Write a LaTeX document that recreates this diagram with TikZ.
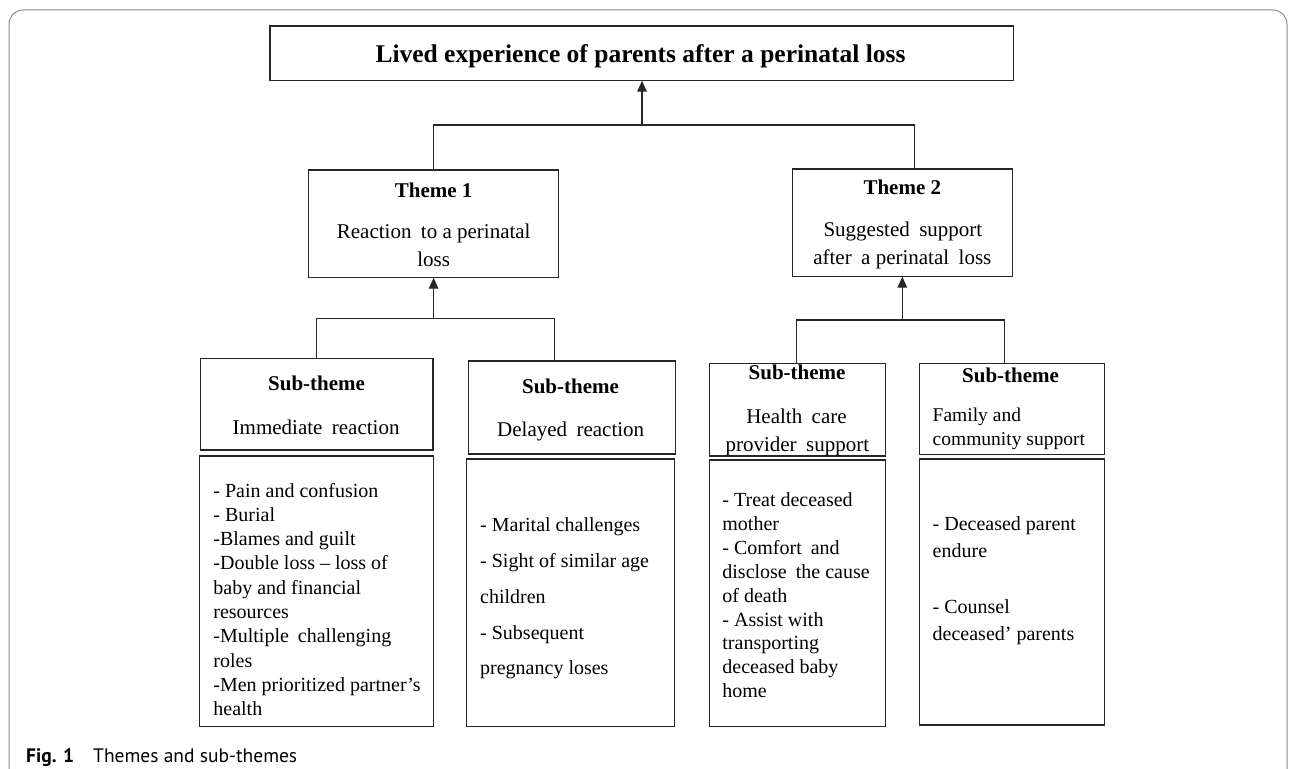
\documentclass[tikz,border=0pt]{standalone}
\usepackage{fontspec}
\setmainfont{Liberation Serif}
\newfontfamily\capfont{PT Sans}
\usetikzlibrary{arrows.meta,calc}
\newcommand\xs{\hspace{0.2em}}
\begin{document}
\begin{tikzpicture}[x=1pt,y=-1pt,
  bx/.style={draw=black!85,line width=1.3pt,inner sep=0pt,outer sep=0pt},
  ln/.style={draw=black!85,line width=1.3pt},
  arr/.style={ln,-{Triangle[length=11pt,width=9.5pt]}},
  ttl/.style={font=\fontsize{25.5}{30}\selectfont\bfseries,inner sep=0pt,anchor=base},
  hd/.style={font=\fontsize{21}{25}\selectfont\bfseries,inner sep=0pt,anchor=base},
  tx/.style={font=\fontsize{21}{25}\selectfont,inner sep=0pt,anchor=base},
  li/.style={font=\fontsize{20}{24}\selectfont,inner sep=0pt,anchor=base west},
]
\useasboundingbox (0,0) rectangle (1292,768);
\fill[white] (0,0) rectangle (1292,768);
\draw[black!45,line width=1pt,rounded corners=14pt] (9,10) rectangle (1287,795);

% boxes
\node[bx,minimum width=743.5pt,minimum height=54.7pt] (top) at (641.75,53.35) {};
\node[bx,minimum width=250pt,minimum height=107.7pt] (t1) at (433.6,223.85) {};
\node[bx,minimum width=219.8pt,minimum height=107.7pt] (t2) at (902.3,222.85) {};
\node[bx,minimum width=232.5pt,minimum height=91.7pt] (s1) at (316.65,404.15) {};
\node[bx,minimum width=206.8pt,minimum height=93pt] (s2) at (572,407.5) {};
\node[bx,minimum width=176pt,minimum height=92.7pt] (s3) at (797.7,409.65) {};
\node[bx,minimum width=185.4pt,minimum height=91pt] (s4) at (1012,408.8) {};
\node[bx,minimum width=234pt,minimum height=270.7pt] (l1) at (316.6,591.35) {};
\node[bx,minimum width=207.8pt,minimum height=267.7pt] (l2) at (570.7,592.85) {};
\node[bx,minimum width=176.4pt,minimum height=266.7pt] (l3) at (797.5,593.35) {};
\node[bx,minimum width=185.4pt,minimum height=266pt] (l4) at (1012,592) {};

% texts
\node[ttl] (ttop) at (640.5,62.5) {Lived experience of parents after a perinatal loss};

\node[hd] (t1a) at (433.6,197) {Theme 1};
\node[tx] (t1b) at (433.7,238) {Reaction\xs{} to a perinatal};
\node[tx] (t1c) at (433.7,266.5) {loss};

\node[hd] (t2a) at (902.3,194.7) {Theme 2};
\node[tx] (t2b) at (902.9,236) {Suggested\xs{} support};
\node[tx] (t2c) at (902.3,264.3) {after\xs{} a perinatal\xs{} loss};

\node[hd] (s1a) at (316.6,390.3) {Sub-theme};
\node[tx] (s1b) at (316.1,434) {Immediate\xs{} reaction};

\node[hd] (s2a) at (570.5,393) {Sub-theme};
\node[tx] (s2b) at (570.7,436.3) {Delayed\xs{} reaction};

\node[hd] (s3a) at (797.1,379.5) {Sub-theme};
\node[tx] (s3b) at (796.5,423.5) {Health\xs{} care};
\node[tx] (s3c) at (797.3,451) {provider\xs{} support};

\node[hd] (s4a) at (1010.6,382.7) {Sub-theme};
\node[li,font=\fontsize{19.5}{24.3}\selectfont] (s4b) at (932.5,421.5)
  {\parbox[t]{170pt}{\raggedright Family and\\community support}};

\node[li,font=\fontsize{20}{24.33}\selectfont] (l1t) at (213.2,497) {\parbox[t]{215pt}{\raggedright
- Pain and confusion\\
- Burial\\
-Blames and guilt\\
-Double loss -- loss of\\
baby and financial\\
resources\\
-Multiple\xs{} challenging\\
roles\\
-Men prioritized partner’s\\
health}};

\node[li,font=\fontsize{20}{35.8}\selectfont] (l2t) at (480,531.6) {\parbox[t]{190pt}{\raggedright
- Marital challenges\\
- Sight of similar age\\
children\\
- Subsequent\\
pregnancy loses}};

\node[li,font=\fontsize{20}{23.9}\selectfont] (l3t) at (722.2,506.5) {\parbox[t]{160pt}{\raggedright
- Treat deceased\\
mother\\
- Comfort\xs{} and\\
disclose\xs{} the cause\\
of death\\
- Assist with\\
transporting\\
deceased baby\\
home}};

\node[li,font=\fontsize{20}{27}\selectfont] (l4a) at (932.5,530.9) {\parbox[t]{170pt}{\raggedright
- Deceased parent\\
endure}};
\node[li,font=\fontsize{20}{27}\selectfont] (l4b) at (932.5,613.3) {\parbox[t]{170pt}{\raggedright
- Counsel\\
deceased’ parents}};

% caption
\node[anchor=base west,inner sep=0pt,font=\capfont\fontsize{19.5}{23}\selectfont] (cap) at (26,762)
  {\textbf{Fig. 1}\hspace{19pt}Themes and sub-themes};

% connectors
\coordinate (j0) at (642,125);
\coordinate (t2in) at ($(t2.north)+(11.9,0)$);
\draw[arr] (j0) -- (j0 |- top.south);
\draw[ln] (t1.north) |- (j0) -| (t2in);

\coordinate (j1) at ($(t1.south)+(0,40.6)$);
\coordinate (s2in) at ($(s2.north)+(-17.7,0)$);
\draw[arr] (j1) -- (t1.south);
\draw[ln] (s1.north) |- (j1) -| (s2in);

\coordinate (j2) at ($(t2.south)+(0,43.3)$);
\coordinate (s3in) at ($(s3.north)+(-1.4,0)$);
\coordinate (s4in) at ($(s4.north)+(-7.3,0)$);
\draw[arr] (j2) -- (t2.south);
\draw[ln] (s3in) |- (j2) -| (s4in);
\end{tikzpicture}
\end{document}
